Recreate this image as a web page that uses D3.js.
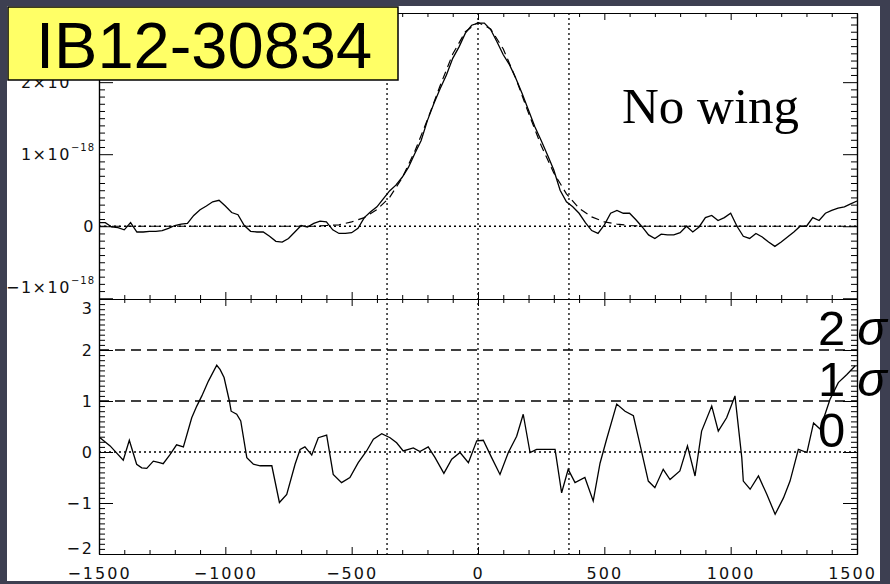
<!DOCTYPE html>
<html>
<head>
<meta charset="utf-8">
<script src="https://cdn.jsdelivr.net/npm/d3@7"></script>
<style>
html, body { margin: 0; padding: 0; background: #3d3f51; }
svg { display: block; }
</style>
</head>
<body>
<script>
// Velocity grid (km/s) of the line profile and its flux (units of 1e-18)
var velocity = d3.range(-1500, 1501, 25);
var flux = [
    0.05, 0.05, -0.01, -0.02, -0.05, 0.05, -0.08, -0.08, -0.07, -0.07,
    -0.06, -0.03, 0.01, 0.03, 0.04, 0.15, 0.23, 0.28, 0.34, 0.36,
    0.28, 0.19, 0.16, 0.01, -0.07, -0.08, -0.08, -0.14, -0.21, -0.22,
    -0.17, -0.08, 0.01, -0.01, 0.04, 0.07, 0.06, -0.05, -0.10, -0.10,
    -0.09, -0.03, 0.12, 0.20, 0.27, 0.38, 0.49, 0.57, 0.68, 0.82,
    1.01, 1.19, 1.47, 1.70, 1.91, 2.10, 2.33, 2.49, 2.68, 2.79,
    2.82, 2.82, 2.73, 2.56, 2.38, 2.24, 2.05, 1.84, 1.61, 1.38,
    1.19, 0.99, 0.78, 0.50, 0.34, 0.27, 0.18, 0.05, -0.06, -0.10,
    0.02, 0.18, 0.22, 0.18, 0.18, 0.09, -0.01, -0.12, -0.17, -0.11,
    -0.12, -0.12, -0.09, 0.00, -0.08, -0.01, 0.12, 0.15, 0.08, 0.12,
    0.18, 0.00, -0.14, -0.17, -0.10, -0.15, -0.22, -0.28, -0.22, -0.15,
    -0.08, 0.00, 0.00, 0.12, 0.08, 0.18, 0.22, 0.25, 0.27, 0.31,
    0.35
];

// Gaussian fit (dashed)
var fitVelocity = [-1500, -650, -600, -550, -500, -450, -400, -350, -300, -250, -200, -150, -100, -50,
    0, 50, 100, 150, 200, 250, 300, 350, 400, 450, 500, 550, 600, 650, 1500];
var fitFlux = [0, 0, 0.01, 0.02, 0.06, 0.12, 0.23, 0.40, 0.67, 1.04, 1.48, 1.95, 2.39, 2.70,
    2.83, 2.74, 2.46, 2.05, 1.57, 1.12, 0.74, 0.45, 0.25, 0.13, 0.06, 0.03, 0.01, 0, 0];

// Residual significance (sigma) in the lower panel
var residVelocity = [-1496, -1456, -1404, -1380, -1351, -1331, -1311, -1285, -1261, -1246, -1219, -1193,
    -1166, -1133, -1113, -1093, -1067, -1034, -1021, -1005, -984, -977, -955, -939, -915, -889, -862,
    -816, -786, -757, -724, -704, -685, -658, -632, -599, -573, -540, -507, -474, -441, -414, -381,
    -348, -322, -296, -256, -230, -197, -170, -135, -104, -71, -38, -5, 21, 54, 87, 120, 153, 179,
    206, 232, 305, 331, 357, 384, 423, 456, 483, 509, 549, 582, 615, 641, 674, 700, 733, 760, 799,
    829, 859, 885, 925, 951, 984, 1017, 1044, 1050, 1077, 1110, 1143, 1176, 1209, 1235, 1268, 1302,
    1328, 1354, 1393, 1426, 1460, 1493];
var residSigma = [0.28, 0.12, -0.16, 0.23, -0.24, -0.31, -0.32, -0.18, -0.21, -0.23, -0.05, 0.14,
    0.10, 0.67, 0.90, 1.10, 1.39, 1.70, 1.62, 1.46, 1.00, 0.80, 0.74, 0.61, -0.11, -0.24, -0.27,
    -0.27, -0.99, -0.83, -0.24, 0.05, 0.10, -0.06, 0.28, 0.33, -0.44, -0.60, -0.50, -0.21, 0.02, 0.25, 0.36,
    0.28, 0.18, 0.02, 0.08, 0.01, 0.10, -0.11, -0.42, -0.14, -0.01, -0.21, 0.22, 0.23, -0.11, -0.44, -0.01, 0.31, 0.74,
    -0.01, 0.05, 0.05, -0.80, -0.34, -0.60, -0.50, -0.96, -0.22, 0.25, 0.94, 0.80, 0.71, 0.15, -0.57, -0.70, -0.34, -0.54, -0.37,
    0.12, -0.47, 0.41, 0.90, 0.41, 0.67, 1.10, -0.11, -0.57, -0.73, -0.47, -0.83, -1.22, -0.90, -0.57, 0.05, -0.01,
    0.57, 0.45, 1.03, 1.36, 1.52, 1.69];

// Reference lines and tick labels
var windowEdges = [-360, 0, 360];
var sigmaLevels = [1, 2];
var xMajor = [-1500, -1000, -500, 0, 500, 1000, 1500];
var topTicks = [-1, 0, 1, 2];
var topTickText = ["\u22121\u00d710", "0", "1\u00d710", "2\u00d710"];
var topTickExp = ["\u221218", "", "\u221218", "\u221218"];
var botTicks = [-2, -1, 0, 1, 2, 3];
var sigmaLabels = ["2", "1", "0"];
var sigmaLabelValues = [2, 1, 0];

var width = 890;
var height = 584;
var plotLeft = 99, plotRight = 857, plotTop = 13, plotMid = 299, plotBottom = 554;

var x = d3.scaleLinear().domain([-1500, 1500]).range([plotLeft, plotRight]);
var yTop = d3.scaleLinear().domain([-1.01, 2.96]).range([plotMid, plotTop]);
var yBot = d3.scaleLinear().domain([-2, 3]).range([plotBottom, plotMid]);

var xMinor = d3.range(-1400, 1500, 100).filter(function(v) { return v % 500 !== 0; });
var topMinor = d3.range(-10, 30).map(function(i) { return i / 10; }).filter(function(v) { return v % 1 !== 0; });
var botMinor = d3.range(-20, 30).map(function(i) { return i / 10; }).filter(function(v) { return v % 1 !== 0; });

var svg = d3.select("body")
            .append("svg")
            .attr("width", width)
            .attr("height", height);

svg.append("rect")
    .attr("width", width).attr("height", height)
    .attr("fill", "#3d3f51");

svg.append("rect")
    .attr("x", 7).attr("y", 6)
    .attr("width", 873).attr("height", 575)
    .attr("fill", "#ffffff");

var tickFont = "'DejaVu Sans', sans-serif";
var tickSize = 16;

// Draw one axis with inward ticks
function drawAxis(axisFn, scale, pos, values, size, fmt) {
    var horizontal = (axisFn === d3.axisBottom || axisFn === d3.axisTop);
    var g = svg.append("g")
        .attr("transform", horizontal ? "translate(0," + pos + ")" : "translate(" + pos + ",0)");
    g.call(axisFn(scale)
        .tickValues(values)
        .tickSize(size)
        .tickSizeOuter(0)
        .tickPadding(14)
        .tickFormat(fmt || function() { return ""; }));
    g.attr("font-family", tickFont).attr("font-size", tickSize).attr("color", "#000");
    g.select(".domain").attr("stroke-width", 1.2);
    g.selectAll(".tick line").attr("stroke-width", 1);
    g.selectAll(".tick text").attr("fill", "#111").attr("letter-spacing", "2px");
    return g;
}

// x axes: top & bottom of each panel
[[d3.axisTop, plotTop], [d3.axisBottom, plotMid], [d3.axisTop, plotMid], [d3.axisBottom, plotBottom]].forEach(function(a) {
    drawAxis(a[0], x, a[1], xMinor, -4);
    var g = drawAxis(a[0], x, a[1], xMajor, -7, a[1] === plotBottom ? d3.format("d") : null);
    if (a[1] === plotBottom) {
        g.selectAll(".tick text").filter(function(d) { return d === 1500; }).attr("dx", -5);
    }
});

// y axes
drawAxis(d3.axisLeft, yTop, plotLeft, topMinor, -6);
drawAxis(d3.axisLeft, yTop, plotLeft, topTicks, -14);
drawAxis(d3.axisRight, yTop, plotRight, topMinor, -6);
drawAxis(d3.axisRight, yTop, plotRight, topTicks, -14);
drawAxis(d3.axisLeft, yBot, plotLeft, botMinor, -6);
drawAxis(d3.axisLeft, yBot, plotLeft, botTicks, -14);
drawAxis(d3.axisRight, yBot, plotRight, botMinor, -6);
drawAxis(d3.axisRight, yBot, plotRight, botTicks, -14);

// y tick labels, kept inside their own panel
function labelY(scale, v, lo, hi) {
    return Math.min(Math.max(scale(v) + 6, lo), hi);
}

topTicks.forEach(function(v, i) {
    var t = svg.append("text")
        .attr("x", 95)
        .attr("y", labelY(yTop, v, plotTop + 15, plotMid - 6))
        .attr("text-anchor", "end")
        .attr("font-family", tickFont)
        .attr("font-size", tickSize)
        .attr("fill", "#111");
    t.append("tspan").attr("letter-spacing", "1.5px").text(topTickText[i]);
    if (topTickExp[i]) {
        t.append("tspan").attr("dy", -9).attr("font-size", 10).attr("letter-spacing", "1px").text(topTickExp[i]);
    }
});

botTicks.forEach(function(v) {
    svg.append("text")
        .attr("x", 94)
        .attr("y", labelY(yBot, v, plotMid + 15, plotBottom))
        .attr("text-anchor", "end")
        .attr("font-family", tickFont)
        .attr("font-size", tickSize)
        .attr("letter-spacing", "2px")
        .attr("fill", "#111")
        .text(d3.format("d")(v));
});

// Vertical dotted lines in both panels
svg.selectAll("line.vwin")
    .data(windowEdges)
    .enter()
    .append("line")
    .attr("x1", function(d) { return x(d); })
    .attr("x2", function(d) { return x(d); })
    .attr("y1", plotTop).attr("y2", plotBottom)
    .attr("stroke", "#000").attr("stroke-width", 1.3)
    .attr("stroke-dasharray", "2,3");

// Zero lines (dotted)
svg.append("line")
    .attr("x1", plotLeft).attr("x2", plotRight)
    .attr("y1", yTop(0)).attr("y2", yTop(0))
    .attr("stroke", "#000").attr("stroke-width", 1.3)
    .attr("stroke-dasharray", "2,3");
svg.append("line")
    .attr("x1", plotLeft).attr("x2", plotRight)
    .attr("y1", yBot(0)).attr("y2", yBot(0))
    .attr("stroke", "#000").attr("stroke-width", 1.3)
    .attr("stroke-dasharray", "2,3");

// 1 and 2 sigma dashed lines
svg.selectAll("line.sig")
    .data(sigmaLevels)
    .enter()
    .append("line")
    .attr("x1", plotLeft).attr("x2", plotRight)
    .attr("y1", function(d) { return yBot(d); })
    .attr("y2", function(d) { return yBot(d); })
    .attr("stroke", "#000").attr("stroke-width", 1.3)
    .attr("stroke-dasharray", "10,6");

// Upper panel: spectrum and fit
var topLine = d3.line()
    .x(function(d) { return x(d[0]); })
    .y(function(d) { return yTop(d[1]); });

svg.append("path")
    .attr("d", topLine(d3.zip(fitVelocity, fitFlux)))
    .attr("fill", "none")
    .attr("stroke", "#000").attr("stroke-width", 1.2)
    .attr("stroke-dasharray", "8,5");

svg.append("path")
    .attr("d", topLine(d3.zip(velocity, flux)))
    .attr("fill", "none")
    .attr("stroke", "#000").attr("stroke-width", 1.3);

// Lower panel: residual significance
var botLine = d3.line()
    .x(function(d) { return x(d[0]); })
    .y(function(d) { return yBot(d[1]); });

svg.append("path")
    .attr("d", botLine(d3.zip(residVelocity, residSigma)))
    .attr("fill", "none")
    .attr("stroke", "#000").attr("stroke-width", 1.3);

// Annotations
svg.append("text")
    .attr("x", 622).attr("y", 123)
    .attr("font-family", "'Liberation Serif', serif")
    .attr("font-size", 51)
    .attr("fill", "#000")
    .text("No wing");

sigmaLabels.forEach(function(s, i) {
    var t = svg.append("text")
        .attr("x", 818)
        .attr("y", yBot(sigmaLabelValues[i]) - 5)
        .attr("font-family", "'Liberation Sans', Arial, sans-serif")
        .attr("font-size", 49)
        .attr("fill", "#000");
    t.append("tspan").text(s);
    if (sigmaLabelValues[i] > 0) {
        t.append("tspan").attr("dx", 12).attr("font-style", "italic").text("\u03c3");
    }
});

// Yellow name tag
svg.append("rect")
    .attr("x", 8).attr("y", 7)
    .attr("width", 390).attr("height", 73)
    .attr("fill", "#ffff66")
    .attr("stroke", "#000").attr("stroke-width", 1.5);
svg.append("text")
    .attr("x", 36).attr("y", 68)
    .attr("font-family", "'Liberation Sans', Arial, sans-serif")
    .attr("font-size", 65)
    .attr("fill", "#000")
    .text("IB12-30834");
</script>
</body>
</html>
